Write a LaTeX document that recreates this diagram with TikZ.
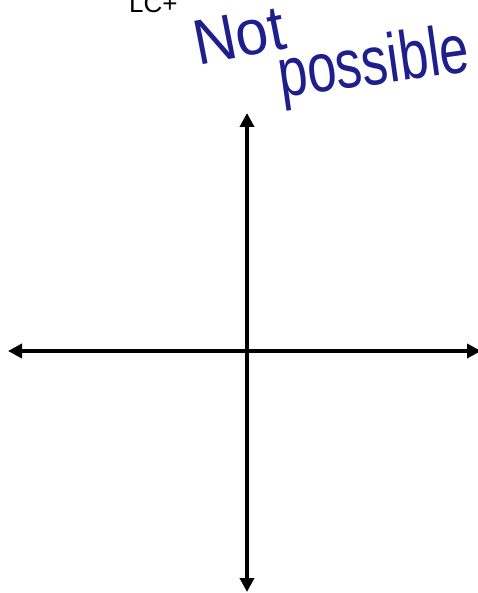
\documentclass[tikz,border=0pt]{standalone}
\usepackage{fontspec}
\setmainfont{Liberation Sans}
\usepackage{xcolor}
\usepackage{tikz}
\usetikzlibrary{arrows.meta, positioning}
\definecolor{inkblue}{RGB}{30,30,140}

\begin{document}
\begin{tikzpicture}[
    x=1pt, y=-1pt,
    tag/.style={
        inner sep=0pt,
        anchor=base west,
        font=\fontsize{26}{26}\selectfont
    },
    scrawl/.style={
        inner sep=0pt,
        anchor=base west,
        text=inkblue,
        font=\fontsize{64}{64}\selectfont
    },
    axis/.style={{Triangle[length=14pt, width=14pt]}-{Triangle[length=14pt, width=14pt]}, line width=4.5pt}
]
\useasboundingbox (0,0) rectangle (478,593);

\node[tag] (lcplus) at (129,13) {LC+};

\node[scrawl, rotate=11, xscale=0.92] (not) at (198,66) {Not};

\node[scrawl, rotate=8, xscale=0.82, yscale=1.08] (possible) at (281,98) {possible};

\coordinate (west) at (8,351);
\coordinate (east) at (481,351);
\coordinate (north) at (247,113);
\coordinate (south) at (247,592);

\draw[axis] (west) -- (east);
\draw[axis] (north) -- (south);

\end{tikzpicture}
\end{document}
